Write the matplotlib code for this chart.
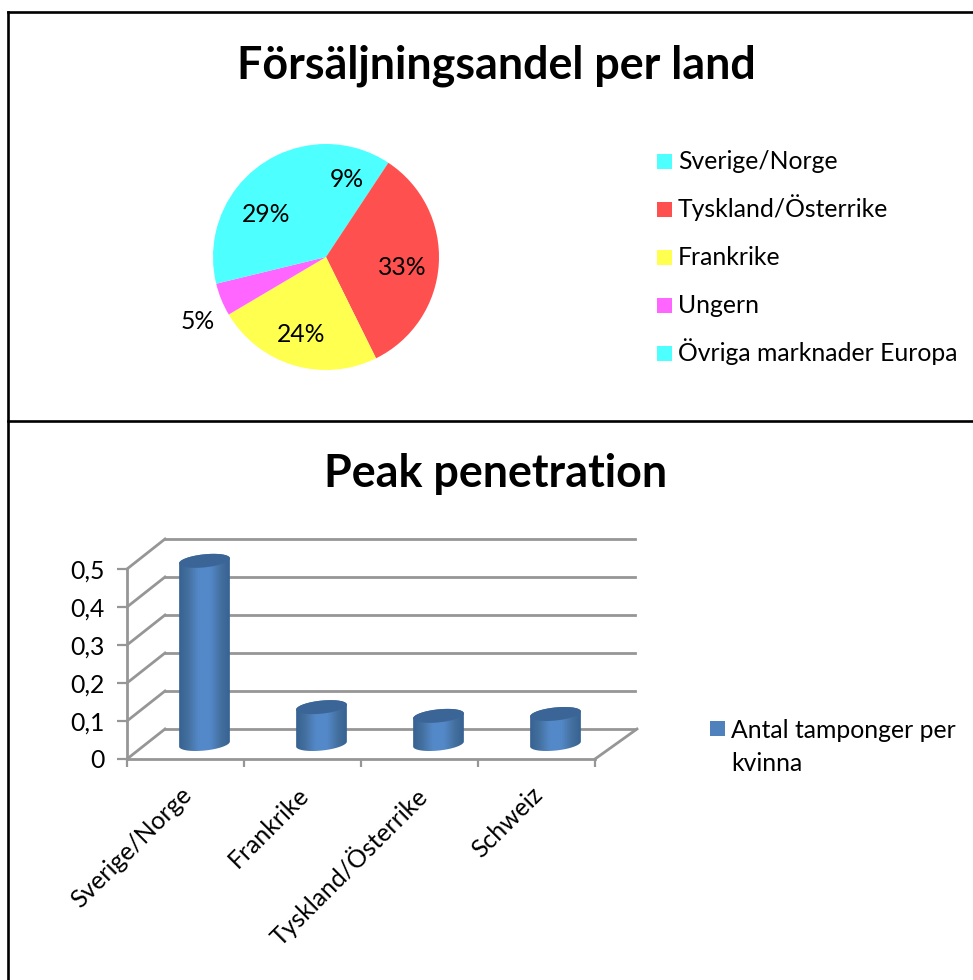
import numpy as np
import matplotlib
matplotlib.use("Agg")
import matplotlib.pyplot as plt
from matplotlib.lines import Line2D
from matplotlib.patches import Polygon, Rectangle
from matplotlib.transforms import Affine2D, IdentityTransform
from matplotlib.colors import LinearSegmentedColormap

plt.rcParams['font.family'] = ['Lato', 'DejaVu Sans']

W, H = 973, 980

pie_labels = ["Sverige/Norge", "Tyskland/Österrike", "Frankrike", "Ungern", "Övriga marknader Europa"]
pie_values = [9.3, 33.4, 23.8, 4.7, 28.8]
pie_colors = ["#4dffff", "#ff5050", "#ffff50", "#ff66ff", "#4dffff"]

bar_labels = ["Sverige/Norge", "Frankrike", "Tyskland/Österrike", "Schweiz"]
bar_values = [0.482, 0.097, 0.074, 0.079]
y_ticks = [0, 0.1, 0.2, 0.3, 0.4, 0.5]
y_ticklabels = ["0", "0,1", "0,2", "0,3", "0,4", "0,5"]
bar_series = "Antal tamponger per\nkvinna"

# where the percent labels sit, in pixels from the pie centre
pct_offsets = [(21, 78), (76, -10), (-25, -77), (-128, -64), (-60, 43)]
FS = 17.8


def box(x0, y0, x1, y1):
    # pixel box from the top left -> figure fractions
    return [x0 / W, 1 - y1 / H, (x1 - x0) / W, (y1 - y0) / H]


def key(x, y, color):
    # 15 px legend square, x,y = top left in pixels
    fig.add_artist(Rectangle((x / W, 1 - (y + 15) / H), 15 / W, 15 / H, transform=fig.transFigure,
                             facecolor=color, edgecolor="none"))


fig = plt.figure(figsize=(W / 100, H / 100), dpi=100, facecolor="white")

# frame lines
for xs, ys in [([8, 973], [12, 12]), ([8, 8], [12, 980]), ([8, 973], [421, 421])]:
    fig.add_artist(Line2D([x / W for x in xs], [1 - y / H for y in ys], color="black", lw=1.9))

fig.text(496 / W, 1 - 66 / H, "Försäljningsandel per land", ha="center", va="center", fontsize=32.3, fontweight="bold")
fig.text(496 / W, 1 - 474 / H, "Peak penetration", ha="center", va="center", fontsize=32.3, fontweight="bold")

# pie
ax_pie = fig.add_axes(box(176, 107, 476, 407))
wedges, _, pcts = ax_pie.pie(pie_values, colors=pie_colors, startangle=90, counterclock=False,
                             radius=1, autopct="%.0f%%", textprops={"fontsize": FS})
ax_pie.set_xlim(-150 / 113, 150 / 113)
ax_pie.set_ylim(-150 / 113, 150 / 113)
for txt, (dx, dy) in zip(pcts, pct_offsets):
    txt.set_position((dx / 113, dy / 113))

# legend rows are 48 px apart
for i, (lab, col) in enumerate(zip(pie_labels, pie_colors)):
    key(657, 154 + 48 * i, col)
    fig.text(678 / W, 1 - (169 + 48 * i) / H, lab, ha="left", va="baseline", fontsize=FS)

# "3d" column chart, front plane of the box
ax = fig.add_axes(box(127, 569, 595, 759))
ax.patch.set_alpha(0)
ax.set_xlim(0, 4)
ax.set_ylim(0, 0.5)

grid_col = "#969696"
grid_lw = 2.0
back = ax.transData + Affine2D().translate(38, 30)
mid_depth = ax.transData + Affine2D().translate(19, 15)

for v in y_ticks:
    ax.plot([0, 4.02], [v, v], color=grid_col, lw=grid_lw, transform=back, clip_on=False, zorder=1)
    # diagonal on the side wall
    x0, y0 = ax.transData.transform((0, v))
    ax.plot([x0, x0 + 38], [y0, y0 + 30], color=grid_col, lw=grid_lw, transform=IdentityTransform(),
            clip_on=False, zorder=1)
x0, y0 = ax.transData.transform((4, 0))
ax.plot([x0, x0 + 42], [y0, y0 + 30], color=grid_col, lw=grid_lw, transform=IdentityTransform(),
        clip_on=False, zorder=1)

cyl_cmap = LinearSegmentedColormap.from_list("cyl", ["#345f8f", "#44709f", "#5489c9", "#5489c9", "#44709f", "#345f8f"])
grad = np.linspace(0, 1, 64).reshape(1, -1)
half_w = 25.5
tilt = np.radians(6)
t = np.linspace(0, 2 * np.pi, 81)


def ellipse_pts(cx, cy, ts):
    ex = half_w * np.cos(ts)
    ey = 6.5 * np.sin(ts)
    return cx + ex * np.cos(tilt) - ey * np.sin(tilt), cy + ex * np.sin(tilt) + ey * np.cos(tilt)


for i, v in enumerate(bar_values):
    bx, by = mid_depth.transform((i + 0.5, 0))
    tx, ty = mid_depth.transform((i + 0.5, v))
    xb, yb = ellipse_pts(bx, by, np.linspace(np.pi, 2 * np.pi, 41))
    xt, yt = ellipse_pts(tx, ty, np.linspace(0, np.pi, 41))
    body = Polygon(np.column_stack([np.r_[xb, xt], np.r_[yb, yt]]), closed=True, transform=IdentityTransform(),
                   facecolor="none", edgecolor="none")
    ax.add_artist(body)
    im = ax.imshow(grad, cmap=cyl_cmap, aspect="auto", transform=IdentityTransform(), interpolation="bilinear",
                   extent=(bx - half_w - 2, bx + half_w + 2, by - 20, ty + 20), zorder=3)
    im.set_clip_box(fig.bbox)
    im.set_clip_path(body)
    xc, yc = ellipse_pts(tx, ty, t)
    top = Polygon(np.column_stack([xc, yc]), closed=True, transform=IdentityTransform(),
                  facecolor="#3a6596", edgecolor="none", zorder=4)
    top.set_clip_on(False)
    ax.add_patch(top)

ax.set_xlim(0, 4)
ax.set_ylim(0, 0.5)

for s in ["top", "right"]:
    ax.spines[s].set_visible(False)
for s in ["left", "bottom"]:
    ax.spines[s].set_color(grid_col)
    ax.spines[s].set_linewidth(grid_lw)

ax.set_yticks(y_ticks)
ax.set_yticklabels(y_ticklabels, fontsize=FS)
ax.set_xticks(range(5))
ax.set_xticklabels([])
# labels sit a bit left of the category centre
ax.set_xticks(np.arange(len(bar_labels)) + 0.45, minor=True)
ax.set_xticklabels(bar_labels, minor=True, rotation=45, ha="right", rotation_mode="anchor", fontsize=FS)
ax.tick_params(axis="y", which="major", length=7, width=1.6, color=grid_col, pad=9)
ax.tick_params(axis="x", which="major", length=6, width=1.6, color=grid_col)
ax.tick_params(axis="x", which="minor", length=0, pad=17)

# legend of the column chart, first line next to the key
key(710, 721, "#4f81bd")
fig.text(731 / W, 1 - 719 / H, bar_series, ha="left", va="top", fontsize=FS, linespacing=1.55)

fig.savefig("out.png", dpi=100)
